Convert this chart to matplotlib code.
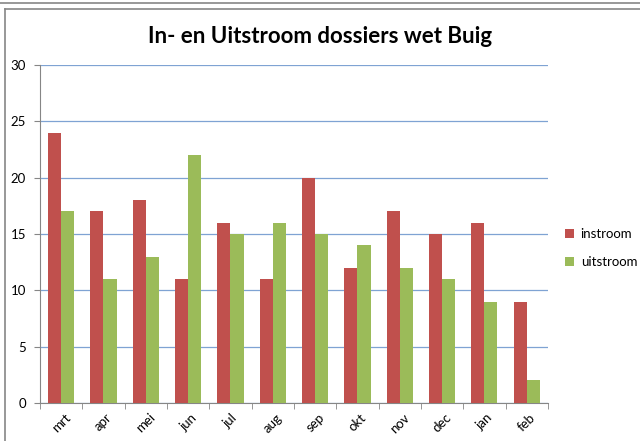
"""In- en uitstroom dossiers wet Buig, per maand."""

import matplotlib.pyplot as plt
import numpy as np
from matplotlib.lines import Line2D

months = ["mrt", "apr", "mei", "jun", "jul", "aug", "sep", "okt", "nov", "dec", "jan", "feb"]
instroom = [24, 17, 18, 11, 16, 11, 20, 12, 17, 15, 16, 9]
uitstroom = [17, 11, 13, 22, 15, 16, 15, 14, 12, 11, 9, 2]
y_ticks = [0, 5, 10, 15, 20, 25, 30]

RED = "#C0504D"
GREEN = "#9BBB59"
GRID = "#7FA3D3"
AXIS = "#868686"

plt.rcParams["font.family"] = ["Lato", "DejaVu Sans"]

fig = plt.figure(figsize=(6.4, 4.41), dpi=100)
ax = fig.add_axes([0.0625, 0.0862, 0.7935, 0.7664])

x = np.arange(len(months))
width = 0.31
ax.bar(x - width / 2, instroom, width, color=RED, label="instroom", zorder=3)
ax.bar(x + width / 2, uitstroom, width, color=GREEN, label="uitstroom", zorder=3)

ax.set_xlim(-0.5, len(months) - 0.5)
ax.set_ylim(0, 30)
ax.set_yticks(y_ticks)
ax.yaxis.grid(True, color=GRID, linewidth=0.9, zorder=0)
ax.tick_params(axis="y", length=4, color=AXIS, labelsize=9.5, pad=6)

ax.set_xticks(x)
ax.set_xticklabels(months, rotation=45, fontsize=9.5)
ax.tick_params(axis="x", length=0, pad=6)
ax.set_xticks(np.arange(len(months) + 1) - 0.5, minor=True)
ax.tick_params(axis="x", which="minor", length=4, color=AXIS)

for side in ["top", "right"]:
    ax.spines[side].set_visible(False)
for side in ["left", "bottom"]:
    ax.spines[side].set_color(AXIS)

fig.text(0.5, 0.918, "In- en Uitstroom dossiers wet Buig", ha="center", va="center",
         fontsize=16, fontweight="bold")

ax.legend(loc="center left", bbox_to_anchor=(1.01, 0.458), frameon=False,
          fontsize=9.5, handlelength=0.7, handleheight=0.7, labelspacing=1.2,
          handletextpad=0.5)

# chart frame lines
fig.add_artist(Line2D([0, 1], [1 - 2.5 / 441] * 2, color=AXIS, linewidth=1.2))
fig.add_artist(Line2D([0.008, 1], [1 - 8.5 / 441] * 2, color=AXIS, linewidth=1.2))
fig.add_artist(Line2D([0.008, 0.008], [0, 1 - 8.5 / 441], color=AXIS, linewidth=1.2))

fig.savefig("out.png", dpi=100)
